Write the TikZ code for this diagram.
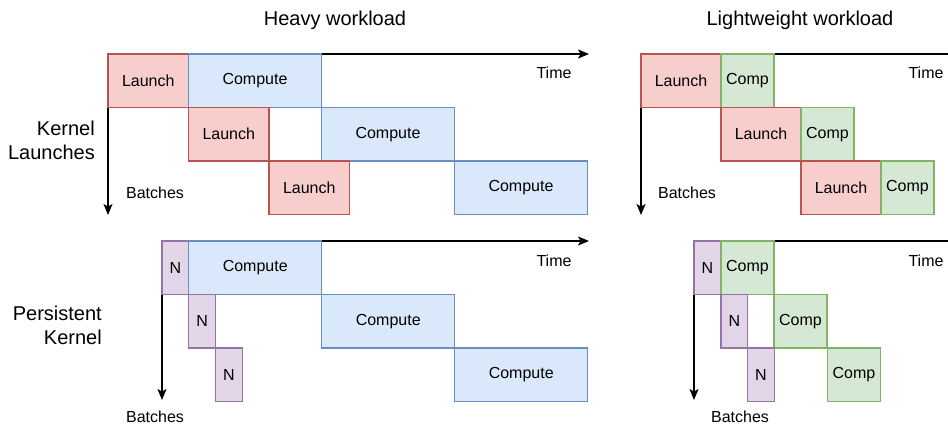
\documentclass[tikz,border=0pt]{standalone}
\usepackage{fontspec}
\setmainfont{Liberation Sans}
\usetikzlibrary{arrows.meta}
\definecolor{redfill}{HTML}{F8CECC}
\definecolor{redline}{HTML}{B85450}
\definecolor{bluefill}{HTML}{DAE8FC}
\definecolor{blueline}{HTML}{6C8EBF}
\definecolor{greenfill}{HTML}{D5E8D4}
\definecolor{greenline}{HTML}{82B366}
\definecolor{purplefill}{HTML}{E1D5E7}
\definecolor{purpleline}{HTML}{9673A6}
\tikzset{
	box/.style={anchor=north west, inner sep=0pt, outer sep=0pt, line width=1.2pt,
		minimum height=53.5pt, font=\fontsize{16}{18}\selectfont},
	launchbox/.style={box, draw=redline, fill=redfill, minimum width=80.5pt},
	computebox/.style={box, draw=blueline, fill=bluefill, minimum width=133pt},
	compbox/.style={box, draw=greenline, fill=greenfill, minimum width=53pt},
	nbox/.style={box, draw=purpleline, fill=purplefill, minimum width=26.75pt},
	axis/.style={line width=1.3pt, -{Stealth[length=11pt,width=9pt,inset=2.5pt]}},
	lbl/.style={font=\fontsize{16}{18}\selectfont, inner sep=0pt},
	head/.style={font=\fontsize{20}{24}\selectfont, inner sep=0pt, align=right}
}
\begin{document}
\begin{tikzpicture}[x=1pt,y=-1pt]
	\useasboundingbox (0,0) rectangle (948,426);
	\clip (0,0) rectangle (948,426);
	% headings
	\node[head] (heavy) at (335,20) {Heavy workload};
	\node[head] (light) at (800,20) {Lightweight workload};
	\node[head, anchor=east] (kl) at (95,140) {Kernel\\Launches};
	\node[head, anchor=east] (pk) at (102,325) {Persistent\\Kernel};
	% axes
	\coordinate (o1) at (108,54);
	\coordinate (t1) at (589,54);
	\coordinate (b1) at (108,215);
	\coordinate (o2) at (641,54);
	\coordinate (t2) at (975,54);
	\coordinate (b2) at (641,215);
	\coordinate (o3) at (162,241);
	\coordinate (t3) at (589,241);
	\coordinate (b3) at (162,400);
	\coordinate (o4) at (694,241);
	\coordinate (t4) at (975,241);
	\coordinate (b4) at (694,400);
	\draw[axis] (o1) -- (t1);
	\draw[axis] (o1) -- (b1);
	\draw[axis] (o2) -- (t2);
	\draw[axis] (o2) -- (b2);
	\draw[axis] (o3) -- (t3);
	\draw[axis] (o3) -- (b3);
	\draw[axis] (o4) -- (t4);
	\draw[axis] (o4) -- (b4);
	% heavy, kernel launches
	\node[launchbox] (hl1) at (108,54) {Launch};
	\node[computebox] (hc1) at (188.5,54) {Compute};
	\node[launchbox] (hl2) at (188.5,107.5) {Launch};
	\node[computebox] (hc2) at (321.5,107.5) {Compute};
	\node[launchbox] (hl3) at (269,161) {Launch};
	\node[computebox] (hc3) at (454.5,161) {Compute};
	% lightweight, kernel launches
	\node[launchbox, minimum width=80pt] (ll1) at (641,54) {Launch};
	\node[compbox] (lc1) at (721,54) {Comp};
	\node[launchbox, minimum width=80pt] (ll2) at (721,107.5) {Launch};
	\node[compbox] (lc2) at (801,107.5) {Comp};
	\node[launchbox, minimum width=80pt] (ll3) at (801,161) {Launch};
	\node[compbox] (lc3) at (881,161) {Comp};
	% heavy, persistent kernel
	\node[nbox] (hn1) at (162,241) {N};
	\node[computebox] (hp1) at (188.75,241) {Compute};
	\node[nbox] (hn2) at (188.75,294.5) {N};
	\node[computebox] (hp2) at (321.75,294.5) {Compute};
	\node[nbox] (hn3) at (215.5,348) {N};
	\node[computebox] (hp3) at (454.75,348) {Compute};
	% lightweight, persistent kernel
	\node[nbox] (ln1) at (694,241) {N};
	\node[compbox] (lp1) at (721,241) {Comp};
	\node[nbox] (ln2) at (721,294.5) {N};
	\node[compbox] (lp2) at (774,294.5) {Comp};
	\node[nbox] (ln3) at (747.5,348) {N};
	\node[compbox] (lp3) at (827.5,348) {Comp};
	% axis labels
	\node[lbl] (time1) at (554,73) {Time};
	\node[lbl] (bat1) at (155,193) {Batches};
	\node[lbl] (time2) at (926,73) {Time};
	\node[lbl] (bat2) at (687,193) {Batches};
	\node[lbl] (time3) at (554,261) {Time};
	\node[lbl] (bat3) at (155,417) {Batches};
	\node[lbl] (time4) at (926,261) {Time};
	\node[lbl] (bat4) at (740,417) {Batches};
\end{tikzpicture}
\end{document}
